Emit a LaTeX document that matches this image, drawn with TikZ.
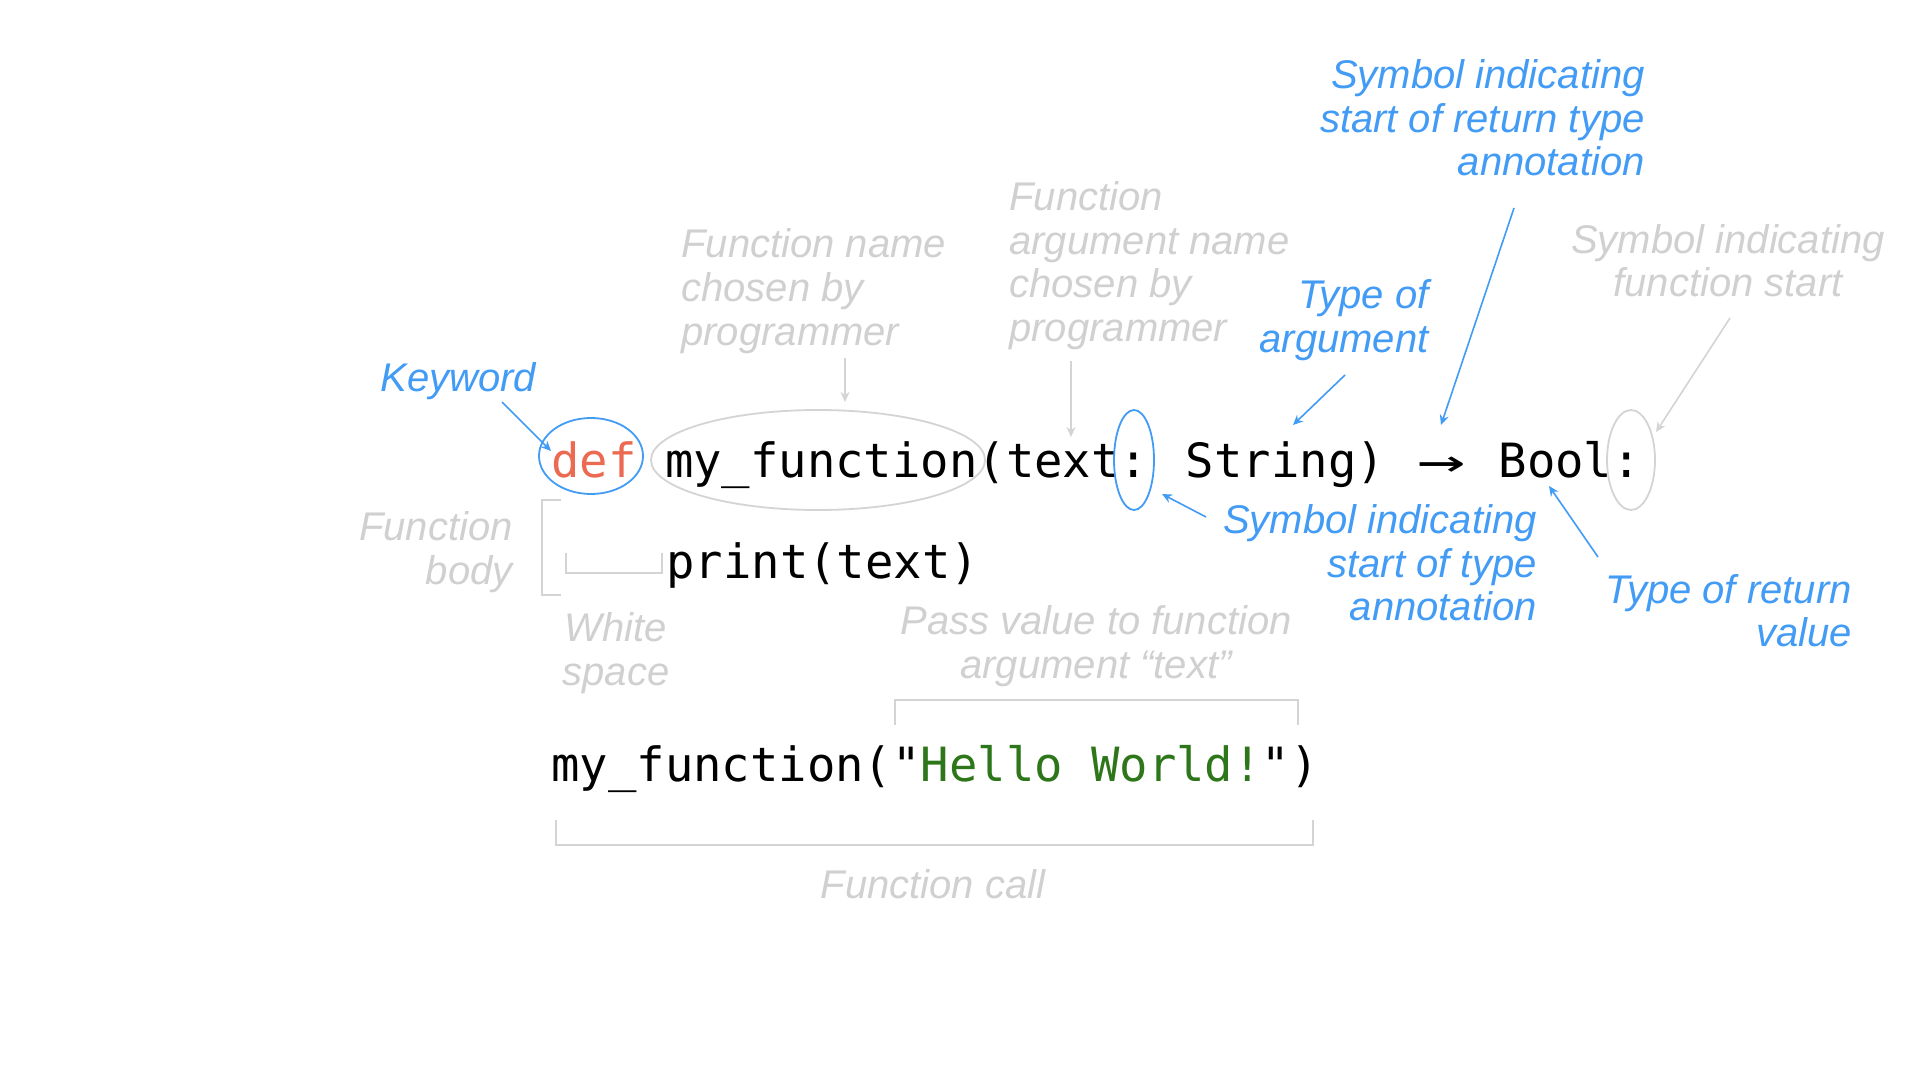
\documentclass[tikz,border=0pt]{standalone}
\usepackage{fontspec}
\newfontfamily\annfont{Liberation Sans}
\newfontfamily\codefont{DejaVu Sans Mono}[Ligatures=TeXOff]
\usetikzlibrary{arrows.meta}
\definecolor{annblue}{RGB}{66,155,245}
\definecolor{anngray}{RGB}{208,208,208}
\definecolor{linegray}{RGB}{212,212,212}
\definecolor{defred}{RGB}{236,106,82}
\definecolor{strgreen}{RGB}{45,118,25}
\tikzset{
  code/.style={inner sep=0pt, font=\codefont\fontsize{23.6}{28}\selectfont, text=black},
  bluenote/.style={inner sep=0pt, font=\annfont\itshape\fontsize{20}{22}\selectfont, text=annblue},
  graynote/.style={inner sep=0pt, font=\annfont\itshape\fontsize{20}{22}\selectfont, text=anngray},
  bluearrow/.style={draw=annblue, line width=0.8pt, -{Stealth[length=5pt,width=4.5pt]}},
  grayarrow/.style={draw=linegray, line width=0.8pt, -{Stealth[length=5pt,width=4.5pt]}},
  blueline/.style={draw=annblue, line width=0.9pt},
  grayline/.style={draw=linegray, line width=0.9pt},
}
\begin{document}
\begin{tikzpicture}[x=0.5pt,y=-0.5pt]
\useasboundingbox[fill=white] (0,0) rectangle (1920,1080);

% code lines
\node[code, anchor=base west] (line1) at (551,477)
  {{\color{defred}def} my\_function(text: String) \makebox[1.204em][c]{\scalebox{1.7}[1]{→}} Bool:};
\node[code, anchor=base west] (line2) at (666,578) {print(text)};
\node[code, anchor=base west] (line3) at (551,781)
  {my\_function("{\color{strgreen}Hello World!}")};

% ellipses
\draw[blueline] (591,456) ellipse [x radius=52, y radius=38];
\draw[grayline] (818,460) ellipse [x radius=167, y radius=50];
\draw[blueline] (1134,460) ellipse [x radius=20, y radius=50];
\draw[grayline] (1631,460) ellipse [x radius=24, y radius=50];

% annotations
\node[bluenote, anchor=base west] (kw) at (380,391) {Keyword};

\node[graynote, anchor=base west] (fn1) at (681,258) {Function name};
\node[graynote, anchor=base west] (fn2) at (681,302) {chosen by};
\node[graynote, anchor=base west] (fn3) at (681,345) {programmer};

\node[graynote, anchor=base west] (an1) at (1009,211) {Function};
\node[graynote, anchor=base west] (an2) at (1009,255) {argument name};
\node[graynote, anchor=base west] (an3) at (1009,298) {chosen by};
\node[graynote, anchor=base west] (an4) at (1009,342) {programmer};

\node[bluenote, anchor=base east] (ta1) at (1429,309) {Type of};
\node[bluenote, anchor=base east] (ta2) at (1429,352) {argument};

\node[bluenote, anchor=base east] (rs1) at (1645,89) {Symbol indicating};
\node[bluenote, anchor=base east] (rs2) at (1645,133) {start of return type};
\node[bluenote, anchor=base east] (rs3) at (1645,176) {annotation};

\node[graynote, anchor=base] (fs1) at (1728,254) {Symbol indicating};
\node[graynote, anchor=base] (fs2) at (1728,297) {function start};

\node[bluenote, anchor=base east] (ts1) at (1537,533) {Symbol indicating};
\node[bluenote, anchor=base east] (ts2) at (1537,577) {start of type};
\node[bluenote, anchor=base east] (ts3) at (1537,620) {annotation};

\node[bluenote, anchor=base east] (rv1) at (1852,603) {Type of return};
\node[bluenote, anchor=base east] (rv2) at (1852,646) {value};

\node[graynote, anchor=base east] (fb1) at (513,540) {Function};
\node[graynote, anchor=base east] (fb2) at (513,584) {body};

\node[graynote, anchor=base] (ws1) at (616,641) {White};
\node[graynote, anchor=base] (ws2) at (616,685) {space};

\node[graynote, anchor=base] (pv1) at (1096,634) {Pass value to function};
\node[graynote, anchor=base] (pv2) at (1096,678) {argument “text”};

\node[graynote, anchor=base] (fc) at (933,898) {Function call};

% arrow end points
\coordinate (kwA) at (502,402);   \coordinate (kwB) at (551,451);
\coordinate (fnA) at (845,358);   \coordinate (fnB) at (845,402);
\coordinate (anA) at (1071,361);  \coordinate (anB) at (1071,437);
\coordinate (taA) at (1345,375);  \coordinate (taB) at (1293,425);
\coordinate (rsA) at (1514,208);  \coordinate (rsB) at (1441,425);
\coordinate (fsA) at (1730,318);  \coordinate (fsB) at (1656,432);
\coordinate (tsA) at (1206,517);  \coordinate (tsB) at (1162,494);
\coordinate (rvA) at (1598,557);  \coordinate (rvB) at (1549,486);

\draw[bluearrow] (kwA) -- (kwB);
\draw[grayarrow] (fnA) -- (fnB);
\draw[grayarrow] (anA) -- (anB);
\draw[bluearrow] (taA) -- (taB);
\draw[bluearrow] (rsA) -- (rsB);
\draw[grayarrow] (fsA) -- (fsB);
\draw[bluearrow] (tsA) -- (tsB);
\draw[bluearrow] (rvA) -- (rvB);

% brackets
\coordinate (fbT) at (561,500); \coordinate (fbB) at (561,595);
\draw[grayline] (fbT) -- (542,500) -- (542,595) -- (fbB);
\coordinate (wsL) at (566,553); \coordinate (wsR) at (662,553);
\draw[grayline] (wsL) -- (566,573) -- (662,573) -- (wsR);
\coordinate (pvL) at (895,725); \coordinate (pvR) at (1298,725);
\draw[grayline] (pvL) -- (895,700) -- (1298,700) -- (pvR);
\coordinate (fcL) at (556,820); \coordinate (fcR) at (1313,820);
\draw[grayline] (fcL) -- (556,845) -- (1313,845) -- (fcR);
\end{tikzpicture}
\end{document}
